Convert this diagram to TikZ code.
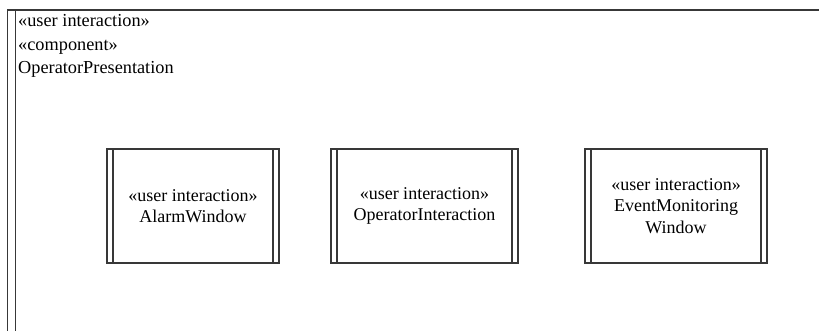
\documentclass[tikz,border=0pt]{standalone}
\usepackage{fontspec}
\setmainfont{Liberation Serif}
\begin{document}
\begin{tikzpicture}[x=1pt,y=1pt,
  linecol/.style={draw=black!78},
  comp/.style={linecol, line width=1.3pt, rectangle, minimum height=114pt,
    align=center, inner sep=0pt, font=\fontsize{18}{21.5}\selectfont,
    path picture={\draw[linecol, line width=1.3pt]
      ([xshift=6pt]path picture bounding box.north west) -- ([xshift=6pt]path picture bounding box.south west)
      ([xshift=-6pt]path picture bounding box.north east) -- ([xshift=-6pt]path picture bounding box.south east);}},
  outer/.style={linecol, line width=1.6pt, rectangle, inner sep=0pt,
    path picture={\draw[linecol, line width=1.6pt]
      ([xshift=8pt]path picture bounding box.north west) -- ([xshift=8pt]path picture bounding box.south west);}},
  labeltxt/.style={align=left, inner sep=0pt, font=\fontsize{18.3}{23.5}\selectfont}
]
\useasboundingbox (0,0) rectangle (819,-331);
\node[outer, anchor=north west, minimum width=840pt, minimum height=345pt] (op) at (6.5,-9) {};
\node[labeltxt, anchor=north west] (optxt) at (18,-14.5) {«user interaction»\\«component»\\OperatorPresentation};
\node[comp, minimum width=172pt] (alarm) at (193,-206) {«user interaction»\\AlarmWindow};
\node[comp, minimum width=187pt] (opint) at (424.5,-206) {«user interaction»\\OperatorInteraction};
\node[comp, minimum width=182pt] (event) at (676,-206) {«user interaction»\\EventMonitoring\\Window};
\end{tikzpicture}
\end{document}
